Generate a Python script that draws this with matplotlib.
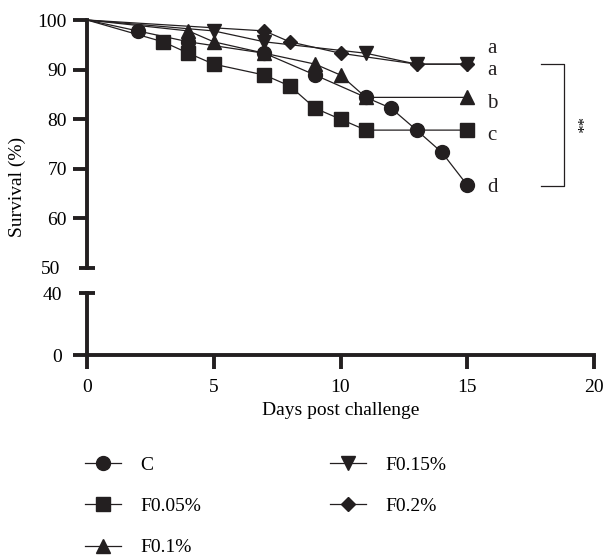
import matplotlib.pyplot as plt
from matplotlib.ticker import FixedLocator, FixedFormatter

plt.rcParams['font.family'] = 'Liberation Serif'

# survival data (% alive) on the days a death was recorded
days_c = [0, 2, 4, 7, 9, 11, 12, 13, 14, 15]
surv_c = [100, 97.8, 95.6, 93.3, 88.9, 84.4, 82.2, 77.8, 73.3, 66.7]
days_f005 = [0, 3, 4, 5, 7, 8, 9, 10, 11, 15]
surv_f005 = [100, 95.6, 93.3, 91.1, 88.9, 86.7, 82.2, 80.0, 77.8, 77.8]
days_f01 = [0, 4, 5, 7, 9, 10, 11, 15]
surv_f01 = [100, 97.8, 95.6, 93.3, 91.1, 88.9, 84.4, 84.4]
days_f015 = [0, 5, 7, 11, 13, 15]
surv_f015 = [100, 97.8, 95.6, 93.3, 91.1, 91.1]
days_f02 = [0, 7, 8, 10, 13, 15]
surv_f02 = [100, 97.8, 95.6, 93.3, 91.1, 91.1]

groups = ['C', 'F0.05%', 'F0.1%', 'F0.15%', 'F0.2%']
markers = ['o', 's', '^', 'v', 'D']
ms = [10, 10, 10, 10, 7.5]

# significance letters at day 15
letters = ['a', 'a', 'b', 'c', 'd']
letter_y = [93.4, 88.9, 82.2, 75.9, 65.3]

series = [(days_c, surv_c), (days_f005, surv_f005), (days_f01, surv_f01),
          (days_f015, surv_f015), (days_f02, surv_f02)]

fig = plt.figure(figsize=(6.03, 5.59), dpi=100)
ax = fig.add_axes([0.1443, 0.5206, 0.8408, 0.4436])
axb = fig.add_axes([0.1443, 0.3649, 0.8408, 0.1109])

lw_spine = 2.8
handles = []
for (d, s), m, size, g in zip(series, markers, ms, groups):
    ln, = ax.plot(d, s, color='#231f20', lw=0.9, marker=m, ms=size,
                  markevery=slice(1, None), clip_on=False, label=g)
    handles.append(ln)

# upper segment of the broken y axis
ax.set_xlim(0, 20)
ax.set_ylim(50, 100)
for sp in ['top', 'right', 'bottom']:
    ax.spines[sp].set_visible(False)
ax.spines['left'].set_linewidth(lw_spine)
ax.spines['left'].set_color('#231f20')
ax.set_xticks([])
ax.yaxis.set_major_locator(FixedLocator([60, 70, 80, 90, 100]))
ax.yaxis.set_minor_locator(FixedLocator([50]))
ax.yaxis.set_minor_formatter(FixedFormatter(['50']))
ax.tick_params(axis='y', which='major', length=10, width=lw_spine,
               color='#231f20', labelsize=14, pad=4.4)
ax.tick_params(axis='y', which='minor', direction='inout', length=11.5,
               width=lw_spine, color='#231f20', labelsize=14, pad=13.5)

# lower segment
axb.set_xlim(0, 20)
axb.set_ylim(0, 40)
for sp in ['top', 'right']:
    axb.spines[sp].set_visible(False)
for sp in ['left', 'bottom']:
    axb.spines[sp].set_linewidth(lw_spine)
    axb.spines[sp].set_color('#231f20')
axb.set_xticks([0, 5, 10, 15, 20])
axb.yaxis.set_major_locator(FixedLocator([0]))
axb.yaxis.set_minor_locator(FixedLocator([40]))
axb.yaxis.set_minor_formatter(FixedFormatter(['40']))
axb.tick_params(axis='both', which='major', length=10, width=lw_spine,
                color='#231f20', labelsize=14)
axb.tick_params(axis='y', which='major', pad=8)
axb.tick_params(axis='x', which='major', pad=7)
axb.tick_params(axis='y', which='minor', direction='inout', length=11.5,
                width=lw_spine, color='#231f20', labelsize=14, pad=12.3)
axb.set_xlabel('Days post challenge', fontsize=14, labelpad=4.5)

fig.text(0.028, 1 - 187 / 559, 'Survival (%)', rotation=90, fontsize=14,
         ha='center', va='center')

for t, y in zip(letters, letter_y):
    ax.text(15.78, y, t, fontsize=15, ha='left', va='baseline', color='#231f20')

# bracket for the significance between groups
ax.plot([17.9, 18.8, 18.8, 17.9], [91.1, 91.1, 66.5, 66.5], color='#231f20',
        lw=0.9, clip_on=False)
ax.text(19.25, 78.8, '**', rotation=270, fontsize=12, ha='center', va='center')

fig.legend(handles, groups, ncol=2, frameon=False, loc='upper left',
           bbox_to_anchor=(0.141, 0.184), fontsize=14, handlelength=1.85,
           handletextpad=1.0, columnspacing=6.6, labelspacing=1.22,
           borderpad=0, borderaxespad=0)

fig.savefig('out.png', dpi=100)
